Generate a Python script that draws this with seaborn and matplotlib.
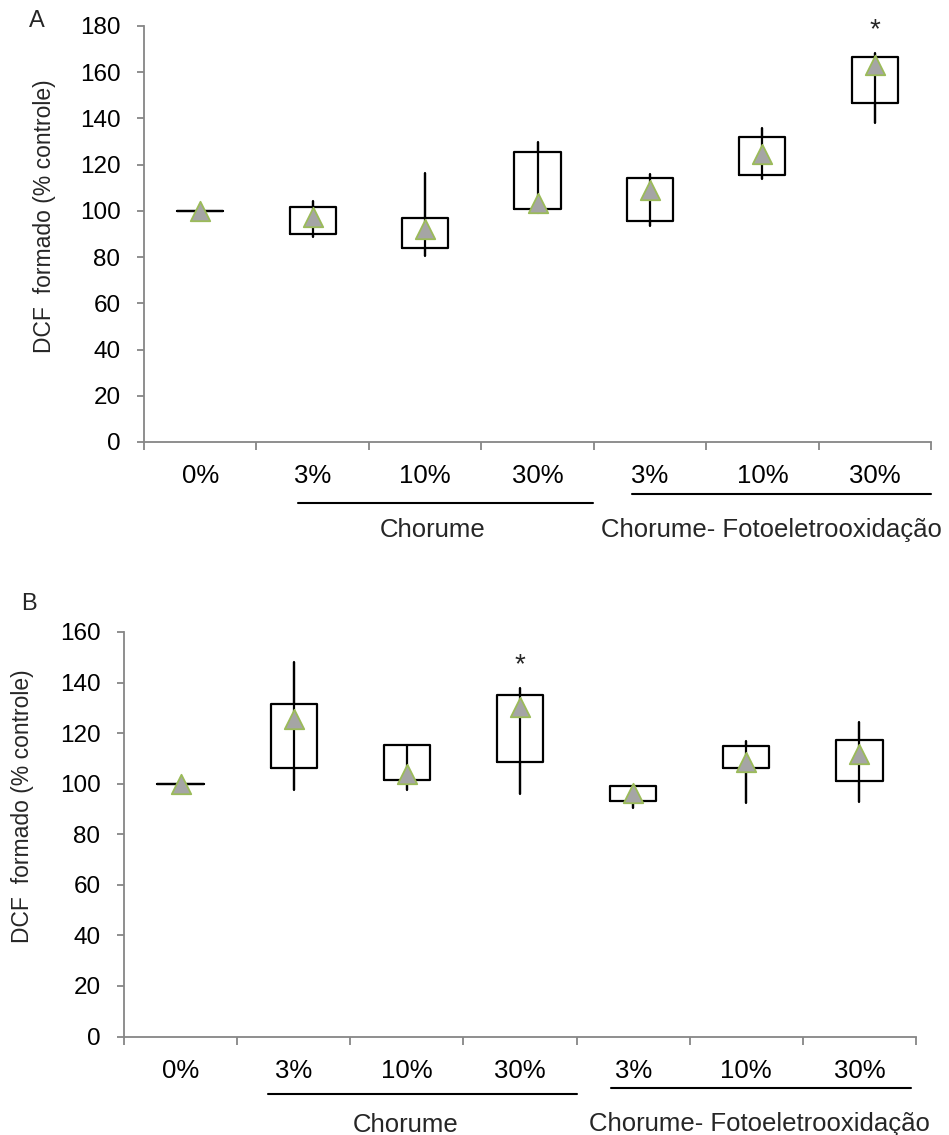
import numpy as np
import pandas as pd
import matplotlib
matplotlib.use("Agg")
import matplotlib.pyplot as plt
import matplotlib.transforms as mtransforms
import seaborn as sns

# ---------------- data ----------------
keys = ["0%", "Ch 3%", "Ch 10%", "Ch 30%", "CF 3%", "CF 10%", "CF 30%"]
tick_labels = ["0%", "3%", "10%", "30%", "3%", "10%", "30%"]

# Panel A
a_min = [100, 88.8, 80.6, 99.0, 93.3, 113.9, 137.9]
a_q1 = [100, 90.0, 83.8, 100.8, 95.8, 115.5, 146.8]
a_q3 = [100, 101.8, 97.1, 125.5, 114.4, 132.1, 166.7]
a_max = [100, 104.4, 116.3, 129.8, 116.0, 135.7, 168.2]
a_mean = [100, 97.5, 92.0, 103.4, 109.0, 124.7, 163.1]
a_star = ["CF 30%"]

# Panel B
b_min = [100, 97.7, 97.7, 96.0, 90.3, 92.3, 92.9]
b_q1 = [100, 106.3, 101.4, 108.7, 93.3, 106.4, 101.0]
b_q3 = [100, 131.7, 115.5, 134.9, 98.9, 115.1, 117.3]
b_max = [100, 148.3, 115.5, 138.0, 98.9, 116.9, 124.5]
b_mean = [100, 125.6, 103.8, 130.4, 96.2, 108.7, 111.9]
b_star = ["Ch 30%"]

group1 = "Chorume"
group2 = "Chorume- Fotoeletrooxidação"
ylabel = "DCF  formado (% controle)"

# ---------------- style ----------------
sns.set_theme(style="white")
plt.rcParams["font.family"] = ["Liberation Sans", "DejaVu Sans"]

W, H = 949, 1135
fig = plt.figure(figsize=(W / 100, H / 100), dpi=100)

AXIS_GRAY = "#868686"
TRI_FILL = "#A5A5A5"
TRI_EDGE = "#9BBB59"


def long_df(lo, q1, q3, hi):
    rows = []
    for k, a, b, c, d in zip(keys, lo, q1, q3, hi):
        for v in (a, b, b, c, d):
            rows.append({"grp": k, "val": v})
    return pd.DataFrame(rows)


def panel(rect, lo, q1, q3, hi, mean, stars, ymax, ax_h_px,
          line1, line2, lab1_x, lab2_x, line1_dy, line2_dy, panel_letter, letter_xy,
          ylab_xy):
    ax = fig.add_axes(rect)
    df = long_df(lo, q1, q3, hi)
    sns.boxplot(data=df, x="grp", y="val", order=keys, ax=ax, fill=False,
                color="black", linecolor="black", width=0.41, linewidth=1.6,
                showcaps=False, whis=(0, 100), showfliers=False,
                medianprops={"visible": False})
    sns.pointplot(data=df, x="grp", y="val", order=keys, ax=ax,
                  estimator="mean", errorbar=("pi", 100), color="black",
                  marker="", linestyle="none", err_kws={"linewidth": 1.6})
    mdf = pd.DataFrame({"grp": keys, "mean": mean})
    sns.stripplot(data=mdf, x="grp", y="mean", order=keys, ax=ax, jitter=False,
                  marker="^", size=14, color=TRI_FILL, edgecolor=TRI_EDGE,
                  linewidth=1.3, zorder=5)
    for s in stars:
        i = keys.index(s)
        ax.annotate("*", xy=(i, hi[i]), xytext=(0, 7), textcoords="offset points",
                    ha="center", va="bottom", fontsize=20, annotation_clip=False)

    ax.set_xlim(-0.5, len(keys) - 0.5)
    ax.set_ylim(0, ymax)
    ax.set_yticks(np.arange(0, ymax + 1, 20))
    ax.set_xticks(np.arange(-0.5, len(keys), 1.0))
    ax.set_xticklabels([""] * (len(keys) + 1))
    ax.set_xticks(np.arange(len(keys)), minor=True)
    ax.set_xticklabels(tick_labels, minor=True)
    ax.set_xlabel("")
    ax.set_ylabel("")
    sns.despine(ax=ax)
    for sp in ("left", "bottom"):
        ax.spines[sp].set_color(AXIS_GRAY)
        ax.spines[sp].set_linewidth(1.3)
    ax.tick_params(axis="y", which="major", direction="out", length=5, width=1.3,
                   color=AXIS_GRAY, labelsize=17.5, pad=12, left=True, labelcolor="black")
    ax.tick_params(axis="x", which="major", direction="out", length=6, width=1.3,
                   color=AXIS_GRAY, bottom=True)
    ax.tick_params(axis="x", which="minor", length=0, labelsize=18.5, pad=16,
                   labelcolor="black", bottom=True)

    trans = mtransforms.blended_transform_factory(ax.transData, ax.transAxes)
    ax.plot(line1, [-line1_dy / ax_h_px] * 2, color="black", lw=1.5,
            transform=trans, clip_on=False)
    ax.plot(line2, [-line2_dy / ax_h_px] * 2, color="black", lw=1.5,
            transform=trans, clip_on=False)
    ax.text(lab1_x, -88 / ax_h_px, group1, transform=trans, ha="center",
            va="center", fontsize=18.5)
    ax.text(lab2_x, -88 / ax_h_px, group2, transform=trans, ha="center",
            va="center", fontsize=18.5)

    fig.text(letter_xy[0] / W, 1 - letter_xy[1] / H, panel_letter, ha="center",
             va="center", fontsize=17)
    fig.text(ylab_xy[0] / W, 1 - ylab_xy[1] / H, ylabel, ha="center",
             va="center", rotation=90, fontsize=16.5)
    return ax


# Panel A: axis from x=144..931 px, y=26..442 px
panel([144 / W, 1 - 442 / H, 787 / W, 416 / H], a_min, a_q1, a_q3, a_max, a_mean,
      a_star, 180, 416,
      line1=[0.87, 3.49], line2=[3.84, 6.5], lab1_x=2.07, lab2_x=5.08,
      line1_dy=61, line2_dy=52, panel_letter="A", letter_xy=(37, 21),
      ylab_xy=(45, 216))

# Panel B: axis from x=124..916 px, y=632..1036.5 px
panel([124 / W, 1 - 1036.5 / H, 792 / W, 404.5 / H], b_min, b_q1, b_q3, b_max, b_mean,
      b_star, 160, 404.5,
      line1=[0.77, 3.5], line2=[3.8, 6.46], lab1_x=1.99, lab2_x=5.12,
      line1_dy=57, line2_dy=51, panel_letter="B", letter_xy=(29, 604),
      ylab_xy=(23, 806))

fig.savefig("out.png", dpi=100, facecolor="white")
